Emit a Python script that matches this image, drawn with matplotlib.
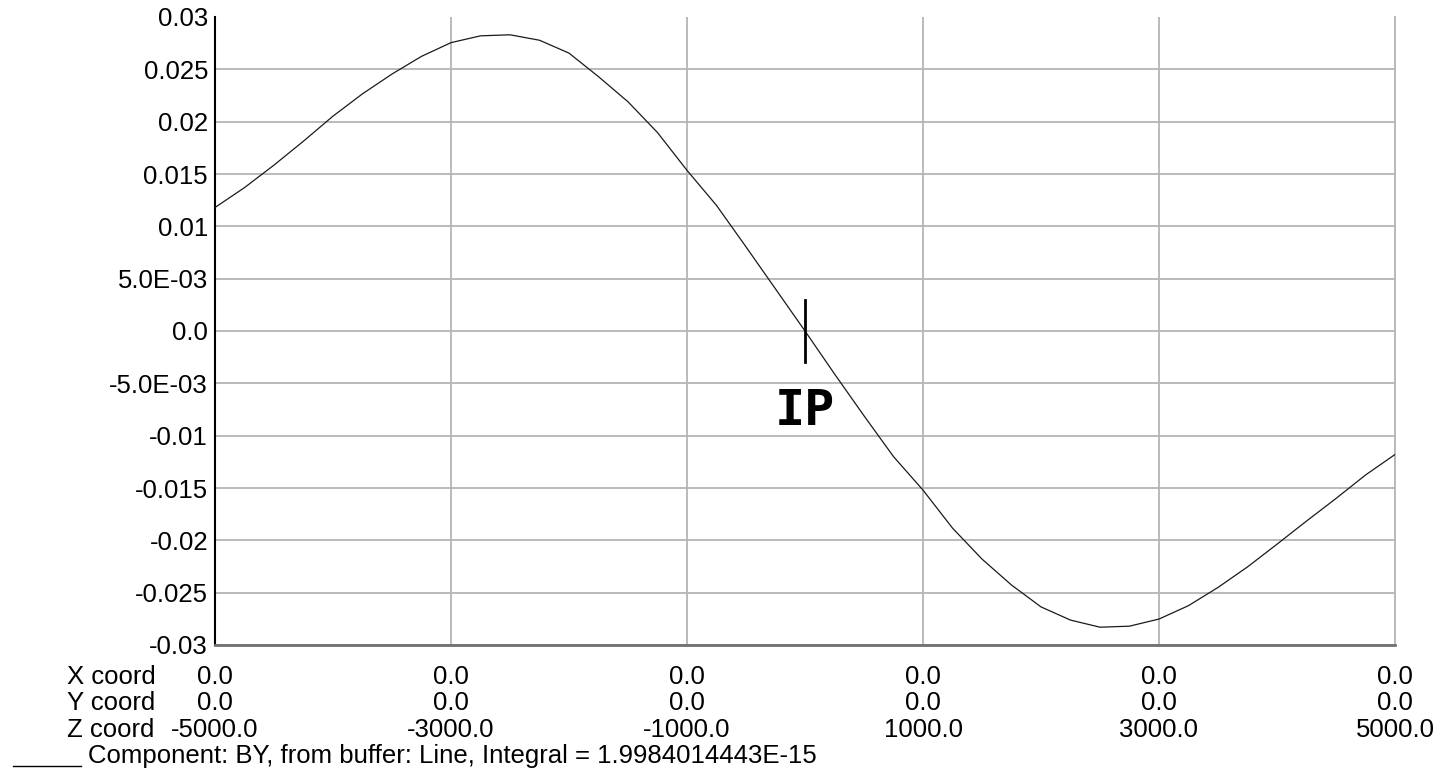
import matplotlib
matplotlib.use("Agg")
import matplotlib.pyplot as plt
from matplotlib.lines import Line2D

# ---- data ----
z_coord = [-5000, -4750, -4500, -4250, -4000, -3750, -3500, -3250, -3000, -2750,
           -2500, -2250, -2000, -1750, -1500, -1250, -1000, -750, -500, -250,
           0, 250, 500, 750, 1000, 1250, 1500, 1750, 2000, 2250,
           2500, 2750, 3000, 3250, 3500, 3750, 4000, 4250, 4500, 4750, 5000]
by_values = [0.0118, 0.0137, 0.01585, 0.01814, 0.02053, 0.02266, 0.02455, 0.02624, 0.02755, 0.0282,
             0.0283, 0.02778, 0.02655, 0.0243, 0.0219, 0.01896, 0.01535, 0.0120, 0.00804, 0.00402,
             0.0, -0.0041, -0.0081, -0.0120, -0.0152, -0.01883, -0.02179, -0.02427, -0.02636, -0.02762,
             -0.0283, -0.0282, -0.02752, -0.02624, -0.0245, -0.02254, -0.02037, -0.01816, -0.0160, -0.01376, -0.0118]

y_ticks = [0.03, 0.025, 0.02, 0.015, 0.01, 0.005, 0.0, -0.005, -0.01, -0.015, -0.02, -0.025, -0.03]
y_tick_labels = ["0.03", "0.025", "0.02", "0.015", "0.01", "5.0E-03", "0.0", "-5.0E-03",
                 "-0.01", "-0.015", "-0.02", "-0.025", "-0.03"]
x_ticks = [-5000, -3000, -1000, 1000, 3000, 5000]
x_row_labels = ["0.0", "0.0", "0.0", "0.0", "0.0", "0.0"]
y_row_labels = ["0.0", "0.0", "0.0", "0.0", "0.0", "0.0"]
z_row_labels = ["-5000.0", "-3000.0", "-1000.0", "1000.0", "3000.0", "5000.0"]
row_names = ["X coord", "Y coord", "Z coord"]
ip_position = 0.0
ip_half_height = 0.003
legend_text = "Component: BY, from buffer: Line, Integral = 1.9984014443E-15"

W, H = 1436, 769
FS = 18.5
fig = plt.figure(figsize=(W / 100, H / 100), dpi=100)
plt.rcParams['font.family'] = ['Liberation Sans', 'DejaVu Sans']
ax = fig.add_axes([215 / W, 1 - 645 / H, 1180 / W, 628 / H])

ax.set_xlim(-5000, 5000)
ax.set_ylim(-0.03, 0.03)

grid_c = '#b4b4b4'
for yv in y_ticks:
    if yv != 0.03:
        ax.axhline(yv, color=grid_c, lw=1.3, zorder=1)
for xv in x_ticks[1:-1]:
    ax.axvline(xv, color=grid_c, lw=1.3, zorder=1)

ax.plot(z_coord, by_values, color='#1a1a1a', lw=0.9, zorder=3)

# IP marker
ax.plot([ip_position, ip_position], [-ip_half_height, ip_half_height], color='black', lw=2, zorder=4)
ax.text(ip_position, -0.0076, "IP", fontsize=36, fontweight='bold',
        family='DejaVu Sans Mono', ha='center', va='center', zorder=4)

ax.set_yticks(y_ticks)
ax.set_yticklabels(y_tick_labels, fontsize=FS)
ax.tick_params(axis='y', length=0, pad=5)
ax.set_xticks([])

ax.spines['top'].set_visible(False)
ax.spines['left'].set_color('black')
ax.spines['left'].set_linewidth(1.5)
ax.spines['bottom'].set_color('#707070')
ax.spines['bottom'].set_linewidth(2)
ax.spines['right'].set_color(grid_c)
ax.spines['right'].set_linewidth(1.3)

# bottom coordinate rows
trans = ax.get_xaxis_transform()
row_y = [-(677 - 645) / 628, -(703 - 645) / 628, -(730 - 645) / 628]
for ry, labels in zip(row_y, [x_row_labels, y_row_labels, z_row_labels]):
    for xv, lab in zip(x_ticks, labels):
        ax.text(xv, ry, lab, transform=trans, fontsize=FS, ha='center', va='center', clip_on=False)
for ry, name in zip(row_y, row_names):
    fig.text(67 / W, 1 - (645 - ry * 628) / H, name, fontsize=FS, ha='left', va='center')

# legend line
fig.add_artist(Line2D([13 / W, 81 / W], [1 - 766 / H, 1 - 766 / H], color='black', lw=1,
                      transform=fig.transFigure))
fig.text(88 / W, 1 - 756 / H, legend_text, fontsize=FS, ha='left', va='center')

fig.savefig("out.png", dpi=100)
